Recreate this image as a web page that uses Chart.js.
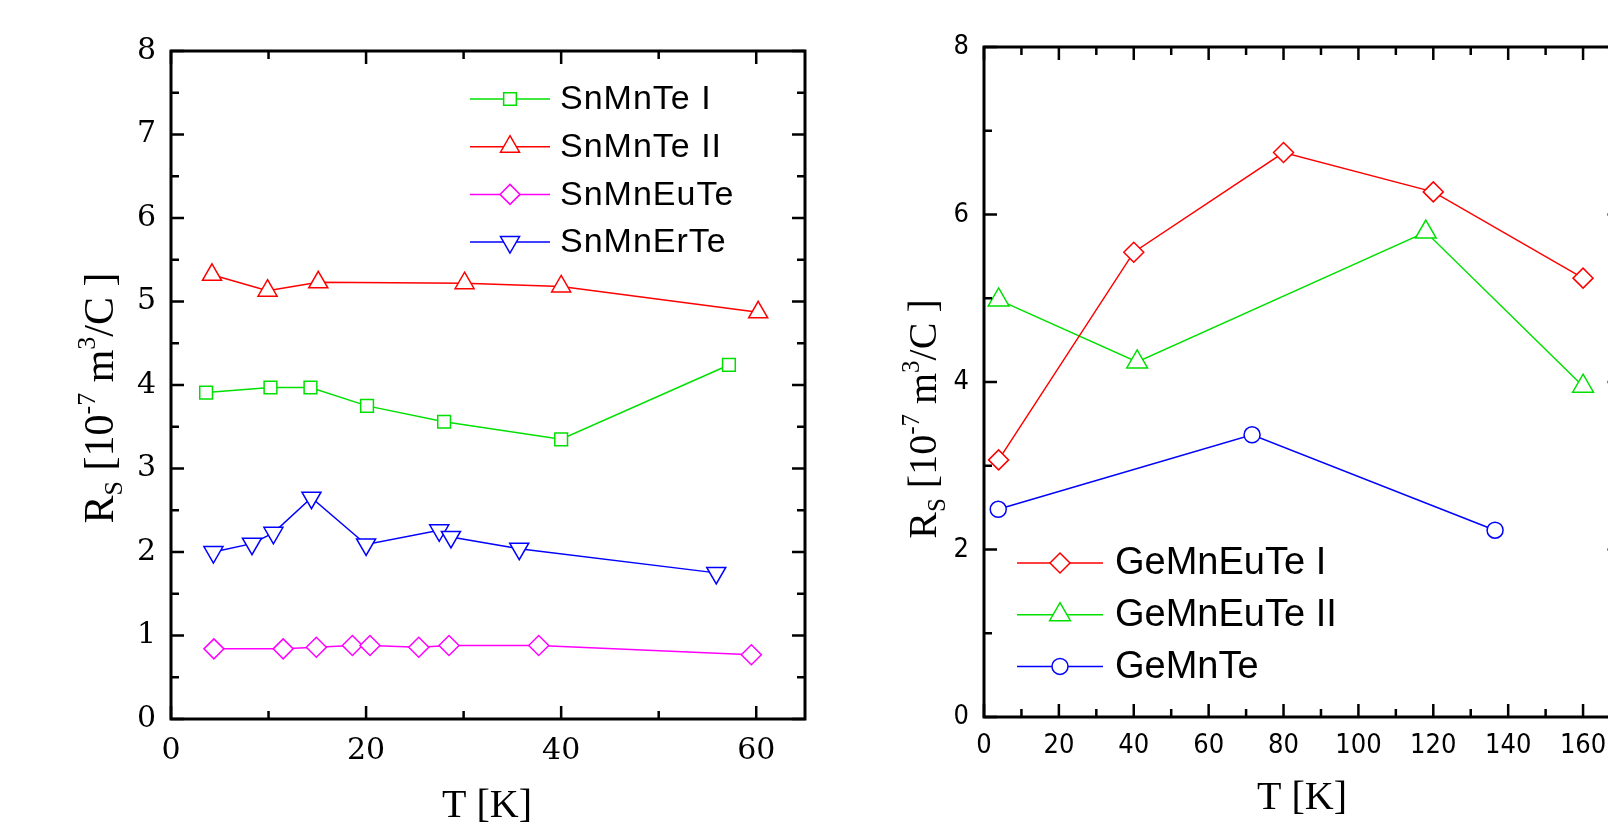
<!DOCTYPE html>
<html>
<head>
<meta charset="utf-8">
<script src="https://cdn.jsdelivr.net/npm/chart.js@4.4.1/dist/chart.umd.min.js"></script>
<style>
  html, body { margin: 0; padding: 0; background: #fff; overflow: hidden; width: 1608px; height: 825px; }
  #leftChart { position: absolute; left: 0; top: 0; }
  #rightChart { position: absolute; left: 830px; top: 0; }
</style>
</head>
<body>
<canvas id="leftChart" width="830" height="825"></canvas>
<canvas id="rightChart" width="830" height="825"></canvas>
<script>
// left panel: Sn based samples, T [K] vs Rs
const snMnTeI_T = [3.6, 10.2, 14.3, 20.1, 28.0, 40.0, 57.2];
const snMnTeI_R = [3.91, 3.97, 3.97, 3.75, 3.56, 3.35, 4.24];
const snMnTeII_T = [4.2, 9.9, 15.1, 30.1, 40.0, 60.2];
const snMnTeII_R = [5.32, 5.13, 5.23, 5.22, 5.18, 4.87];
const snMnEuTe_T = [4.4, 11.5, 14.9, 18.6, 20.4, 25.4, 28.5, 37.7, 59.5];
const snMnEuTe_R = [0.84, 0.84, 0.86, 0.88, 0.88, 0.86, 0.88, 0.88, 0.77];
const snMnErTe_T = [4.35, 8.3, 10.5, 14.4, 20.0, 27.5, 28.7, 35.7, 55.9];
const snMnErTe_R = [2.0, 2.1, 2.23, 2.65, 2.09, 2.26, 2.18, 2.04, 1.75];

// right panel: Ge based samples
const geMnEuTeI_T = [3.9, 40, 80, 120, 160];
const geMnEuTeI_R = [3.07, 5.55, 6.74, 6.27, 5.24];
const geMnEuTeII_T = [3.9, 40.9, 118, 160];
const geMnEuTeII_R = [4.98, 4.24, 5.79, 3.95];
const geMnTe_T = [3.8, 71.6, 136.5];
const geMnTe_R = [2.48, 3.37, 2.23];

const leftLabels = ['SnMnTe I', 'SnMnTe II', 'SnMnEuTe', 'SnMnErTe'];
const rightLabels = ['GeMnEuTe I', 'GeMnEuTe II', 'GeMnTe'];
const leftXTicks = [0, 20, 40, 60];
const leftYTicks = [0, 1, 2, 3, 4, 5, 6, 7, 8];
const rightXTicks = [0, 20, 40, 60, 80, 100, 120, 140, 160];
const rightYTicks = [0, 2, 4, 6, 8];
const xTitle = 'T [K]';
const yTitleParts = [['R', 0], ['S', -1], [' [10', 0], ['-7', 1], [' m', 0], ['3', 1], ['/C ]', 0]];

const pts = (xs, ys) => xs.map((x, i) => ({ x: x, y: ys[i] }));

function series(label, xs, ys, color, style, r, rot) {
  return {
    label: label,
    data: pts(xs, ys),
    borderColor: color,
    backgroundColor: '#fff',
    borderWidth: 1.5,
    pointStyle: style,
    pointRadius: r,
    pointRotation: rot || 0,
    pointBorderColor: color,
    pointBackgroundColor: '#fff',
    pointBorderWidth: 1.5,
    tension: 0,
    fill: false
  };
}

function marker(ctx, style, rot, r, x, y, color) {
  ctx.save();
  ctx.strokeStyle = color;
  ctx.fillStyle = '#fff';
  ctx.lineWidth = 1.5;
  ctx.beginPath();
  if (style === 'circle') {
    ctx.arc(x, y, r, 0, Math.PI * 2);
  } else if (style === 'rect') {
    const s = r * Math.SQRT1_2;
    ctx.rect(x - s, y - s, 2 * s, 2 * s);
  } else if (style === 'rectRot') {
    ctx.moveTo(x, y - r); ctx.lineTo(x + r, y); ctx.lineTo(x, y + r); ctx.lineTo(x - r, y);
    ctx.closePath();
  } else {
    let a = (rot - 90) * Math.PI / 180;
    for (let k = 0; k < 3; k++) {
      const px = x + Math.cos(a) * r, py = y + Math.sin(a) * r;
      if (k === 0) ctx.moveTo(px, py); else ctx.lineTo(px, py);
      a += Math.PI * 2 / 3;
    }
    ctx.closePath();
  }
  ctx.fill();
  ctx.stroke();
  ctx.restore();
}

const serif = '"Liberation Serif", "Times New Roman", serif';

// box with inward ticks on all sides, axis titles and a line+marker legend
const decor = {
  id: 'decor',
  afterDraw(chart, args, o) {
    const ctx = chart.ctx;
    const a = chart.chartArea;
    const xs = chart.scales.x, ys = chart.scales.y;
    ctx.save();
    ctx.strokeStyle = '#000';
    ctx.lineWidth = 3;
    ctx.strokeRect(a.left, a.top, a.right - a.left, a.bottom - a.top);
    ctx.lineWidth = 2.5;
    ctx.beginPath();
    for (let v = xs.min; v <= xs.max + 1e-9; v += o.xMinor) {
      const px = xs.getPixelForValue(v);
      const len = Math.abs(v / o.xMajor - Math.round(v / o.xMajor)) < 1e-6 ? 13 : 8;
      ctx.moveTo(px, a.bottom); ctx.lineTo(px, a.bottom - len);
      ctx.moveTo(px, a.top); ctx.lineTo(px, a.top + len);
    }
    for (let v = ys.min; v <= ys.max + 1e-9; v += o.yMinor) {
      const py = ys.getPixelForValue(v);
      const len = Math.abs(v / o.yMajor - Math.round(v / o.yMajor)) < 1e-6 ? 13 : 8;
      ctx.moveTo(a.left, py); ctx.lineTo(a.left + len, py);
      ctx.moveTo(a.right, py); ctx.lineTo(a.right - len, py);
    }
    ctx.stroke();

    // x title
    ctx.fillStyle = '#000';
    ctx.font = o.xTitleSize + 'px ' + serif;
    ctx.textAlign = 'center';
    ctx.textBaseline = 'alphabetic';
    ctx.fillText(xTitle, o.xTitleX, o.xTitleY);

    // y title with sub/superscripts, rotated
    ctx.textAlign = 'left';
    const big = o.yTitleSize, small = Math.round(big * 0.62);
    let w = 0;
    yTitleParts.forEach(p => {
      ctx.font = (p[1] ? small : big) + 'px ' + serif;
      w += ctx.measureText(p[0]).width;
    });
    ctx.translate(o.yTitleX, o.yTitleY);
    ctx.rotate(-Math.PI / 2);
    let cx = -w / 2;
    yTitleParts.forEach(p => {
      ctx.font = (p[1] ? small : big) + 'px ' + serif;
      const dy = p[1] === -1 ? big * 0.22 : (p[1] === 1 ? -big * 0.42 : 0);
      ctx.fillText(p[0], cx, dy);
      cx += ctx.measureText(p[0]).width;
    });
    ctx.restore();

    // legend
    ctx.save();
    ctx.font = o.legSize + 'px "Liberation Sans", Arial, sans-serif';
    ctx.letterSpacing = o.legSpacing + 'px';
    ctx.textBaseline = 'middle';
    ctx.textAlign = 'left';
    chart.data.datasets.forEach((ds, i) => {
      const y = o.legY + i * o.legGap;
      ctx.strokeStyle = ds.borderColor;
      ctx.lineWidth = 1.5;
      ctx.beginPath();
      ctx.moveTo(o.legX0, y); ctx.lineTo(o.legX1, y);
      ctx.stroke();
      marker(ctx, ds.pointStyle, ds.pointRotation, ds.pointRadius, o.legXm, y, ds.borderColor);
      ctx.fillStyle = '#000';
      ctx.fillText(ds.label, o.legXt, y + 1);
    });
    ctx.restore();
  }
};

function axes(xMax, xTicks, yTicks, leftW, bottomH, font, xPad, yPad) {
  return {
    x: {
      type: 'linear', min: 0, max: xMax,
      afterFit: s => { s.height = bottomH; },
      afterBuildTicks: s => { s.ticks = xTicks.map(v => ({ value: v })); },
      grid: { display: false, drawTicks: false }, border: { display: false },
      ticks: { autoSkip: false, maxRotation: 0, padding: xPad, color: '#000', font: font }
    },
    y: {
      type: 'linear', min: 0, max: 8,
      afterFit: s => { s.width = leftW; },
      afterBuildTicks: s => { s.ticks = yTicks.map(v => ({ value: v })); },
      grid: { display: false, drawTicks: false }, border: { display: false },
      ticks: { autoSkip: false, padding: yPad, color: '#000', font: font }
    }
  };
}

new Chart(document.getElementById('leftChart'), {
  type: 'line',
  data: {
    datasets: [
      series(leftLabels[0], snMnTeI_T, snMnTeI_R, '#00e000', 'rect', 9),
      series(leftLabels[1], snMnTeII_T, snMnTeII_R, '#ff0000', 'triangle', 11),
      series(leftLabels[2], snMnEuTe_T, snMnEuTe_R, '#ff00ff', 'rectRot', 10),
      series(leftLabels[3], snMnErTe_T, snMnErTe_R, '#0000ff', 'triangle', 11, 180)
    ]
  },
  options: {
    responsive: false, animation: false,
    layout: { padding: { top: 51, right: 25, left: 0, bottom: 0 } },
    scales: axes(65, leftXTicks, leftYTicks, 171, 106,
      { family: '"DejaVu Serif", "Liberation Serif", serif', size: 30 }, 14, 15),
    plugins: {
      legend: { display: false }, tooltip: { enabled: false },
      decor: { xMinor: 10, xMajor: 20, yMinor: 0.5, yMajor: 1,
        xTitleSize: 40, xTitleX: 487, xTitleY: 817,
        yTitleSize: 42, yTitleX: 113, yTitleY: 398,
        legSize: 34, legSpacing: 1, legX0: 470, legX1: 550, legXm: 510, legXt: 560, legY: 99, legGap: 47.7 }
    }
  },
  plugins: [decor]
});

new Chart(document.getElementById('rightChart'), {
  type: 'line',
  data: {
    datasets: [
      series(rightLabels[0], geMnEuTeI_T, geMnEuTeI_R, '#ff0000', 'rectRot', 10),
      series(rightLabels[1], geMnEuTeII_T, geMnEuTeII_R, '#00e000', 'triangle', 12),
      series(rightLabels[2], geMnTe_T, geMnTe_R, '#0000ff', 'circle', 8)
    ]
  },
  options: {
    responsive: false, animation: false,
    layout: { padding: { top: 47, right: 39.5, left: 0, bottom: 0 } },
    scales: axes(170, rightXTicks, rightYTicks, 154, 108,
      { family: '"Liberation Sans Narrow", "DejaVu Sans Condensed", sans-serif', size: 27 }, 13, 15),
    plugins: {
      legend: { display: false }, tooltip: { enabled: false },
      decor: { xMinor: 10, xMajor: 20, yMinor: 1, yMajor: 2,
        xTitleSize: 40, xTitleX: 472, xTitleY: 809,
        yTitleSize: 40, yTitleX: 106, yTitleY: 419,
        legSize: 38, legSpacing: 0, legX0: 187, legX1: 273, legXm: 230, legXt: 285, legY: 563, legGap: 51.7 }
    }
  },
  plugins: [decor]
});
</script>
</body>
</html>
